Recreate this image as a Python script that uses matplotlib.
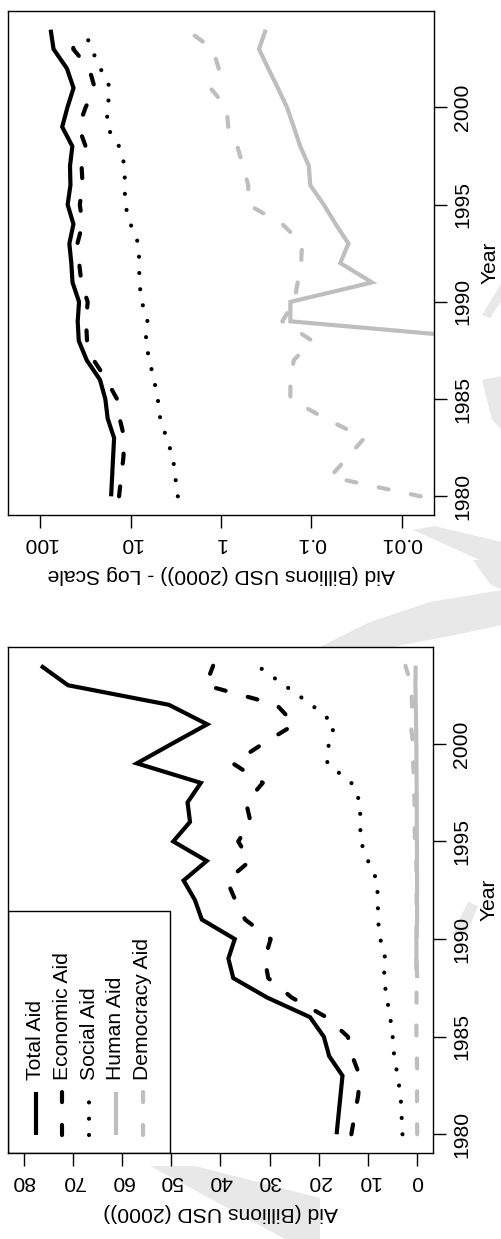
import numpy as np
import matplotlib.pyplot as plt
from matplotlib.patches import Rectangle, Polygon

plt.rcParams['font.family'] = ['Liberation Sans', 'DejaVu Sans']

# data (billions USD, 2000)
years = np.arange(1980, 2005)
total_aid = [16.4, 16.0, 15.6, 15.2, 17.9, 19.0, 21.8, 30.5, 37.4, 38.4,
             37.1, 43.8, 45.2, 47.5, 42.8, 49.6, 46.2, 46.7, 44.0, 57.0,
             49.9, 42.7, 50.5, 71.0, 76.5]
economic_aid = [13.4, 12.7, 12.0, 11.7, 13.2, 14.1, 18.5, 25.5, 30.3, 31.0,
                29.8, 35.0, 37.0, 38.7, 34.0, 36.4, 33.9, 34.8, 31.4, 37.5,
                31.4, 24.9, 28.6, 43.0, 41.5]
social_aid = [3.0, 3.2, 3.4, 4.0, 4.7, 5.0, 5.5, 6.2, 6.8, 6.5,
              7.5, 8.0, 8.0, 8.2, 10.0, 11.5, 11.6, 11.6, 13.4, 18.3,
              18.0, 16.8, 21.5, 27.0, 32.5]
human_aid = [np.nan] * 8 + [0.0006, 0.171, 0.171, 0.0214, 0.048, 0.039, 0.054,
                            0.073, 0.103, 0.107, 0.133, 0.157, 0.186, 0.235,
                            0.30, 0.38, 0.32]
democracy_aid = [0.0062, 0.062, 0.040, 0.026, 0.070, 0.171, 0.171, 0.157, 0.098,
                 0.21, 0.155, 0.142, 0.13, 0.127, 0.21, 0.50, 0.50, 0.57, 0.66,
                 0.83, 0.87, 1.31, 1.06, 1.23, 2.4]

names = ['Total Aid', 'Economic Aid', 'Social Aid', 'Human Aid', 'Democracy Aid']
year_ticks = [1980, 1985, 1990, 1995, 2000]
lin_ticks = [0, 10, 20, 30, 40, 50, 60, 70, 80]
log_ticks = [100, 10, 1, 0.1, 0.01]
log_labels = ['100', '10', '1', '0.1', '0.01']

series = [total_aid, economic_aid, social_aid, human_aid, democracy_aid]
grey = '#bebebe'
styles = [
    dict(color='black', ls='-'),
    dict(color='black', dashes=(2.4, 5.5)),
    dict(color='black', dashes=(0.01, 3.9)),
    dict(color=grey, ls='-'),
    dict(color=grey, dashes=(2.4, 5.5)),
]
LW = 3
FS = 15.2
W, H = 502, 1239


def draw_lines(ax):
    for vals, st in zip(series, styles):
        ax.plot(vals, years, lw=LW, solid_capstyle='butt',
                dash_capstyle='round', solid_joinstyle='miter', **st)


def style_axes(ax, xlabel):
    ax.set_ylim(1979.04, 2004.96)
    ax.yaxis.tick_right()
    ax.yaxis.set_label_position('right')
    ax.set_yticks(year_ticks)
    ax.set_yticklabels([str(y) for y in year_ticks], rotation=90, va='center')
    ax.set_ylabel('Year', rotation=90, fontsize=FS, labelpad=6)
    ax.tick_params(axis='both', direction='out', length=9, width=1,
                   labelsize=FS)
    ax.tick_params(axis='y', pad=5)
    ax.tick_params(axis='x', pad=5, labelrotation=180)
    ax.set_xlabel(xlabel, rotation=180, fontsize=FS, labelpad=8)
    for s in ax.spines.values():
        s.set_linewidth(1)


fig = plt.figure(figsize=(W / 100, H / 100), dpi=100)

# faint watermark pieces peeking out around the plot boxes (behind everything)
watermark = [
    [(320, 647), (370, 622), (430, 602), (502, 590), (502, 625), (450, 636), (392, 647)],
    [(473, 560), (502, 560), (502, 590), (490, 584)],
    [(413, 530), (434, 526), (502, 542), (502, 570)],
    [(150, 1166), (195, 1166), (320, 1198), (320, 1239), (285, 1239)],
    [(452, 935), (468, 902), (478, 906), (466, 935)],
    [(482, 315), (502, 282), (502, 300), (490, 318)],
    [(482, 380), (502, 376), (502, 430), (492, 420)],
]
for pts in watermark:
    fig.patches.append(Polygon([(x / W, 1 - y / H) for x, y in pts], closed=True,
                               transform=fig.transFigure, color='#e8e8e8',
                               lw=0, zorder=-5))

# top: log scale
ax_log = fig.add_axes([8 / W, 1 - 515 / H, 426 / W, 504 / H])
draw_lines(ax_log)
ax_log.set_xscale('log')
ax_log.set_xlim(10 ** 2.355, 10 ** -2.355)
ax_log.set_xticks(log_ticks)
ax_log.set_xticklabels(log_labels)
ax_log.xaxis.set_minor_locator(plt.NullLocator())
style_axes(ax_log, 'Aid (Billions USD (2000)) - Log Scale')

# bottom: linear scale
ax_lin = fig.add_axes([8 / W, 1 - 1153 / H, 425 / W, 506 / H])
draw_lines(ax_lin)
ax_lin.set_xlim(83.2, -3.2)
ax_lin.set_xticks(lin_ticks)
ax_lin.set_xticklabels([str(t) for t in lin_ticks])
style_axes(ax_lin, 'Aid (Billions USD (2000))')

for ax in (ax_log, ax_lin):
    ax.set_zorder(1)

# legend drawn by hand so its text can run along the rotated page
ax_lin.add_patch(Rectangle((0, 0), 0.381, 0.479, transform=ax_lin.transAxes,
                           fill=False, lw=1, color='black', zorder=5))
for i, (name, st) in enumerate(zip(names, styles)):
    xc = 0.065 + 0.063 * i
    ax_lin.plot([xc, xc], [0.0356, 0.1206], transform=ax_lin.transAxes,
                lw=LW, solid_capstyle='butt', dash_capstyle='round', **st)
    ax_lin.text(xc, 0.144, name, transform=ax_lin.transAxes, rotation=90,
                ha='center', va='bottom', fontsize=FS)

fig.savefig('out.png', dpi=100)
